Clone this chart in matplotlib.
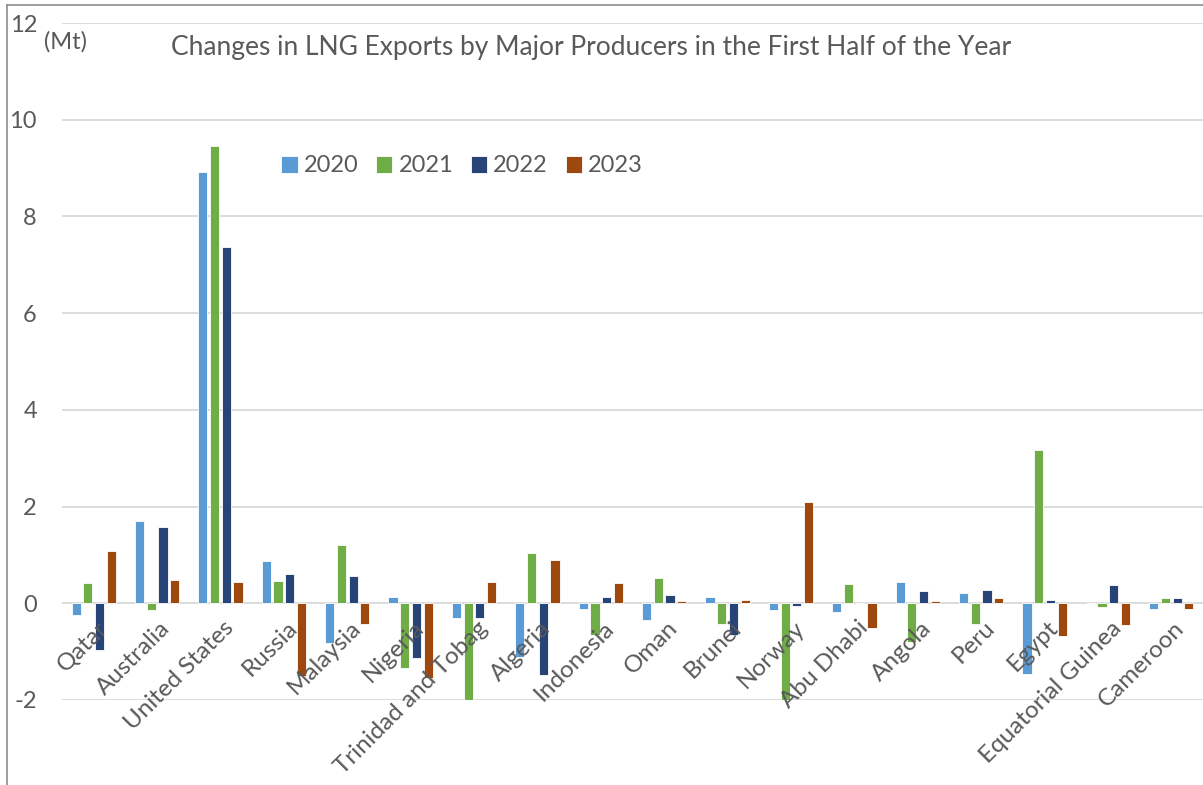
import matplotlib
matplotlib.use("Agg")
import matplotlib.pyplot as plt
from matplotlib.lines import Line2D
import numpy as np

plt.rcParams['font.family'] = ['Lato', 'DejaVu Sans']

countries = ["Qatar", "Australia", "United States", "Russia", "Malaysia", "Nigeria",
             "Trinidad and Tobag", "Algeria", "Indonesia", "Oman", "Brunei", "Norway",
             "Abu Dhabi", "Angola", "Peru", "Egypt", "Equatorial Guinea", "Cameroon"]

years = ["2020", "2021", "2022", "2023"]

v2020 = [-0.24, 1.70, 8.92, 0.88, -0.82, 0.12, -0.30, -1.12, -0.12, -0.34,
         0.12, -0.14, -0.19, 0.43, 0.21, -1.47, 0.00, -0.11]
v2021 = [0.41, -0.13, 9.46, 0.46, 1.20, -1.34, -2.02, 1.05, -0.66, 0.52,
         -0.43, -2.00, 0.39, -0.80, -0.42, 3.18, -0.08, 0.10]
v2022 = [-0.97, 1.57, 7.36, 0.60, 0.56, -1.14, -0.30, -1.48, 0.13, 0.17,
         -0.65, -0.05, 0.00, 0.26, 0.28, 0.06, 0.37, 0.10]
v2023 = [1.09, 0.48, 0.44, -1.51, -0.43, -1.54, 0.44, 0.89, 0.41, 0.05,
         0.06, 2.09, -0.51, 0.04, 0.10, -0.68, -0.45, -0.11]

series = [v2020, v2021, v2022, v2023]
colors = ["#5B9BD5", "#70AD47", "#264478", "#9E480E"]

yticks = [-2, 0, 2, 4, 6, 8, 10, 12]

title = "Changes in LNG Exports by Major Producers in the First Half of the Year"
unit = "(Mt)"

text_color = "#595959"
grid_color = "#D9D9D9"

W, H = 1203, 785
fig = plt.figure(figsize=(W / 100, H / 100), dpi=100)
fig.patch.set_facecolor("white")

ax = fig.add_axes([62 / W, 1 - 700 / H, (W - 62) / W, (700 - 23) / H])
ax.set_facecolor("white")

x = np.arange(len(countries))
step = 0.185
width = 0.145
for k, (vals, c, yr) in enumerate(zip(series, colors, years)):
    ax.bar(x + (k - 1.5) * step, vals, width=width, color=c,
           edgecolor="white", linewidth=0.6, label=yr, zorder=3)

ax.set_xlim(-0.5, len(countries) - 0.5)
ax.set_ylim(-2, 12)
ax.set_yticks(yticks)
ax.set_yticklabels([str(t) for t in yticks])
ax.yaxis.grid(True, color=grid_color, linewidth=1.3, zorder=0)
ax.set_axisbelow(True)
ax.tick_params(axis="y", length=0, pad=25 * 0.72, labelsize=17, labelcolor=text_color)
ax.set_xticks([])
for s in ax.spines.values():
    s.set_visible(False)

# category labels sit on the zero line, rotated, drawn over the bars
for i, name in enumerate(countries):
    ax.annotate(name, xy=(i + 0.04, 0), xytext=(0, -10), textcoords="offset points",
                rotation=45, rotation_mode="anchor", ha="right", va="top",
                fontsize=17.5, color=text_color, zorder=5,
                annotation_clip=False)

fig.text(44 / W, 1 - 31 / H, unit, fontsize=17, color=text_color,
         ha="left", va="top")
fig.text(591 / W, 1 - 48 / H, title, fontsize=19, color=text_color,
         ha="center", va="center")

leg = ax.legend(loc="center", bbox_to_anchor=(462 / W, 1 - 166 / H),
                bbox_transform=fig.transFigure, ncol=4, frameon=False,
                fontsize=17, handlelength=0.7, handleheight=0.7,
                handletextpad=0.25, columnspacing=0.75)
for t in leg.get_texts():
    t.set_color(text_color)

# outer frame on left and top
fig.add_artist(Line2D([7 / W, 7 / W], [0, 1 - 5 / H], transform=fig.transFigure,
                      color="#8C8C8C", linewidth=1.2))
fig.add_artist(Line2D([7 / W, 1], [1 - 5 / H, 1 - 5 / H], transform=fig.transFigure,
                      color="#8C8C8C", linewidth=1.2))

fig.savefig("out.png", dpi=100, facecolor="white")
